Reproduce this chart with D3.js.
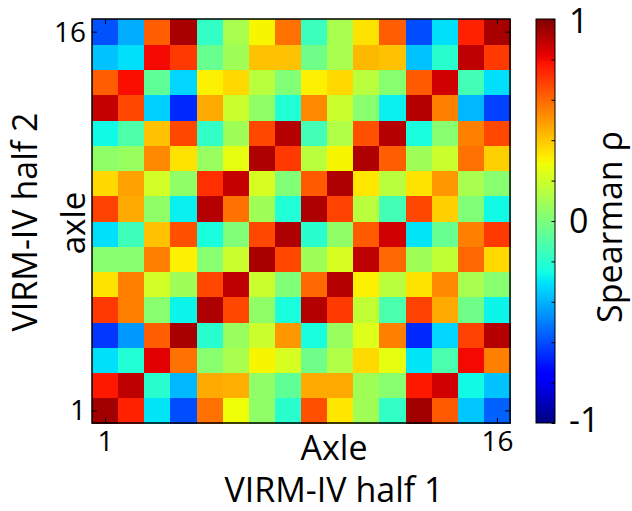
<!DOCTYPE html>
<html>
<head>
<meta charset="utf-8">
<script src="https://cdn.jsdelivr.net/npm/d3@7"></script>
<style>
  html, body { margin: 0; padding: 0; background: #fff; }
  svg { display: block; }
  text { font-family: "Open Sans", "DejaVu Sans", sans-serif; fill: #000; }
</style>
</head>
<body>
<svg id="chart" width="632" height="511"></svg>
<script>
// ---------------- data ----------------
const axles = d3.range(1, 17);              // axle numbers 1..16
const xTickLabels = [1, 16];
const yTickLabels = [1, 16];
const cbarTickLabels = [-1, 0, 1];
const cbarMinorTicks = [-1, -0.8, -0.6, -0.4, -0.2, 0, 0.2, 0.4, 0.6, 0.8, 1];

// Spearman rho, rows = VIRM-IV half 2 axle (1..16), columns = half 1 axle (1..16)
const rho01 = [0.94, 0.75, -0.30, -0.60, 0.58, 0.28, 0.05, -0.20, 0.65, 0.33, 0.09, -0.18, 0.94, 0.63, -0.36, -0.56];
const rho02 = [0.77, 0.89, -0.20, -0.39, 0.46, 0.45, 0.05, -0.07, 0.46, 0.46, 0.09, 0.03, 0.77, 0.86, -0.26, -0.37];
const rho03 = [-0.31, -0.22, 0.83, 0.58, 0.03, 0.11, 0.30, 0.22, -0.03, 0.13, 0.36, 0.26, -0.30, -0.12, 0.80, 0.55];
const rho04 = [-0.64, -0.45, 0.62, 0.93, -0.20, 0.07, 0.19, 0.50, -0.24, 0.07, 0.24, 0.55, -0.67, -0.33, 0.68, 0.91];
const rho05 = [0.70, 0.55, 0.03, -0.27, 0.92, 0.67, 0.05, -0.24, 0.91, 0.70, 0.17, -0.12, 0.68, 0.46, -0.03, -0.27];
const rho06 = [0.34, 0.55, 0.21, 0.09, 0.67, 0.89, 0.19, 0.01, 0.60, 0.91, 0.31, 0.15, 0.34, 0.53, 0.11, 0.03];
const rho07 = [0.03, 0.03, 0.55, 0.31, 0.03, 0.19, 0.93, 0.67, 0.09, 0.22, 0.89, 0.60, 0.09, 0.17, 0.60, 0.36];
const rho08 = [-0.31, -0.15, 0.41, 0.65, -0.24, 0.01, 0.67, 0.92, -0.20, 0.05, 0.63, 0.86, -0.30, -0.05, 0.55, 0.70];
const rho09 = [0.68, 0.46, 0.05, -0.28, 0.91, 0.58, 0.09, -0.22, 0.92, 0.68, 0.15, -0.14, 0.67, 0.38, 0.01, -0.26];
const rho10 = [0.36, 0.48, 0.21, 0.05, 0.72, 0.88, 0.22, 0.01, 0.63, 0.92, 0.33, 0.15, 0.34, 0.50, 0.11, 0.03];
const rho11 = [0.05, 0.07, 0.53, 0.34, 0.07, 0.26, 0.92, 0.70, 0.15, 0.30, 0.92, 0.62, 0.09, 0.19, 0.58, 0.38];
const rho12 = [-0.26, -0.11, 0.41, 0.67, -0.18, 0.09, 0.67, 0.91, -0.14, 0.13, 0.65, 0.91, -0.24, 0.03, 0.55, 0.67];
const rho13 = [0.88, 0.67, -0.34, -0.67, 0.46, 0.19, 0.05, -0.22, 0.53, 0.19, 0.03, -0.28, 0.91, 0.55, -0.39, -0.62];
const rho14 = [0.62, 0.79, -0.07, -0.33, 0.31, 0.36, 0.15, 0.01, 0.31, 0.36, 0.15, 0.03, 0.63, 0.86, -0.14, -0.31];
const rho15 = [-0.37, -0.31, 0.80, 0.70, -0.05, 0.09, 0.41, 0.41, -0.03, 0.11, 0.43, 0.41, -0.37, -0.20, 0.89, 0.70];
const rho16 = [-0.59, -0.41, 0.62, 0.93, -0.18, 0.11, 0.30, 0.58, -0.16, 0.11, 0.34, 0.62, -0.60, -0.31, 0.75, 0.93];
const rhoRows = [rho01, rho02, rho03, rho04, rho05, rho06, rho07, rho08,
                 rho09, rho10, rho11, rho12, rho13, rho14, rho15, rho16];

// ---------------- layout ----------------
const svg = d3.select("#chart");
const plot = { left: 92, right: 510, top: 19, bottom: 423 };
const cbar = { left: 536, right: 555 };

const x = d3.scaleBand().domain(axles).range([plot.left, plot.right]).padding(0);
const y = d3.scaleBand().domain(axles).range([plot.bottom, plot.top]).padding(0);

// matplotlib "jet" colormap via piecewise-linear scales
const jetR = d3.scaleLinear().domain([0, 0.35, 0.66, 0.89, 1]).range([0, 0, 1, 1, 0.5]).clamp(true);
const jetG = d3.scaleLinear().domain([0, 0.125, 0.375, 0.64, 0.91, 1]).range([0, 0, 1, 1, 0, 0]).clamp(true);
const jetB = d3.scaleLinear().domain([0, 0.11, 0.34, 0.65, 1]).range([0.5, 1, 1, 0, 0]).clamp(true);
const norm = d3.scaleLinear().domain([-1, 1]).range([0, 1]).clamp(true);
function jet(v) {
  const t = norm(v);
  return d3.rgb(jetR(t) * 255, jetG(t) * 255, jetB(t) * 255).formatHex();
}

// ---------------- heatmap cells ----------------
const cells = [];
rhoRows.forEach((row, ri) => row.forEach((v, ci) => cells.push({ r: axles[ri], c: axles[ci], v })));

svg.append("g").selectAll("rect").data(cells).join("rect")
  .attr("x", d => x(d.c))
  .attr("y", d => y(d.r))
  .attr("width", x.bandwidth() + 0.5)
  .attr("height", y.bandwidth() + 0.5)
  .attr("fill", d => jet(d.v))
  .attr("shape-rendering", "crispEdges");

// frame
svg.append("rect")
  .attr("x", plot.left).attr("y", plot.top)
  .attr("width", plot.right - plot.left).attr("height", plot.bottom - plot.top)
  .attr("fill", "none").attr("stroke", "#000").attr("stroke-width", 1.5);

// ---------------- axes (inward ticks on all sides) ----------------
const xc = d3.scalePoint().domain(axles).range([plot.left + x.bandwidth() / 2, plot.right - x.bandwidth() / 2]);
const yc = d3.scalePoint().domain(axles).range([plot.bottom - y.bandwidth() / 2, plot.top + y.bandwidth() / 2]);

function styleAxis(g) {
  g.select(".domain").remove();
  g.selectAll(".tick line").attr("stroke", "#000").attr("stroke-width", 1);
}

const gxb = svg.append("g").attr("transform", `translate(0,${plot.bottom})`)
  .call(d3.axisBottom(xc).tickValues(xTickLabels).tickSizeInner(-5).tickSizeOuter(0).tickPadding(0));
styleAxis(gxb);
gxb.selectAll(".tick text")
  .attr("y", 28).attr("dy", 0)
  .style("font-size", "28px").style("font-family", '"Open Sans", sans-serif');

const gxt = svg.append("g").attr("transform", `translate(0,${plot.top})`)
  .call(d3.axisTop(xc).tickValues(xTickLabels).tickSizeInner(-5).tickSizeOuter(0).tickFormat(""));
styleAxis(gxt);

const gyl = svg.append("g").attr("transform", `translate(${plot.left},0)`)
  .call(d3.axisLeft(yc).tickValues(yTickLabels).tickSizeInner(-5).tickSizeOuter(0).tickPadding(0));
styleAxis(gyl);
gyl.selectAll(".tick text")
  .attr("x", -6).attr("dy", 0).attr("y", 9.5)
  .attr("text-anchor", "end")
  .style("font-size", "28px").style("font-family", '"Open Sans", sans-serif');

const gyr = svg.append("g").attr("transform", `translate(${plot.right},0)`)
  .call(d3.axisRight(yc).tickValues(yTickLabels).tickSizeInner(-5).tickSizeOuter(0).tickFormat(""));
styleAxis(gyr);

// axis titles
svg.append("text").attr("x", 334).attr("y", 460).attr("text-anchor", "middle")
  .style("font-size", "34px").text("Axle");
svg.append("text").attr("x", 334).attr("y", 502).attr("text-anchor", "middle")
  .style("font-size", "34px").text("VIRM-IV half 1");
svg.append("text").attr("transform", "translate(85,223) rotate(-90)").attr("text-anchor", "middle")
  .style("font-size", "33px").text("axle");
svg.append("text").attr("transform", "translate(37,222) rotate(-90)").attr("text-anchor", "middle")
  .style("font-size", "34px").text("VIRM-IV half 2");

// ---------------- colorbar ----------------
const cy = d3.scaleLinear().domain([-1, 1]).range([plot.bottom, plot.top]);
const defs = svg.append("defs");
const grad = defs.append("linearGradient").attr("id", "jetgrad")
  .attr("x1", 0).attr("y1", 1).attr("x2", 0).attr("y2", 0);
grad.selectAll("stop").data(d3.range(0, 1.0001, 0.01)).join("stop")
  .attr("offset", d => d)
  .attr("stop-color", d => jet(norm.invert(d)));

svg.append("rect")
  .attr("x", cbar.left).attr("y", plot.top)
  .attr("width", cbar.right - cbar.left).attr("height", plot.bottom - plot.top)
  .attr("fill", "url(#jetgrad)").attr("stroke", "#000").attr("stroke-width", 1);

const gcb = svg.append("g").attr("transform", `translate(${cbar.right},0)`)
  .call(d3.axisRight(cy).tickValues(cbarMinorTicks).tickSizeInner(-3.5).tickSizeOuter(0).tickFormat(""));
styleAxis(gcb);

// label baseline offsets keep the end labels inside the picture, as in the reference
const cbarLabelShift = v => (v === 1 ? 14 : v === -1 ? 9 : 12);
svg.append("g").selectAll("text").data(cbarTickLabels).join("text")
  .attr("x", 569)
  .attr("y", d => cy(d) + cbarLabelShift(d))
  .attr("text-anchor", "start")
  .style("font-size", "34px")
  .text(d => d < 0 ? "-" + Math.abs(d) : String(d));

svg.append("text").attr("transform", "translate(622,227) rotate(-90)").attr("text-anchor", "middle")
  .style("font-size", "34px").text("Spearman ρ");
</script>
</body>
</html>
